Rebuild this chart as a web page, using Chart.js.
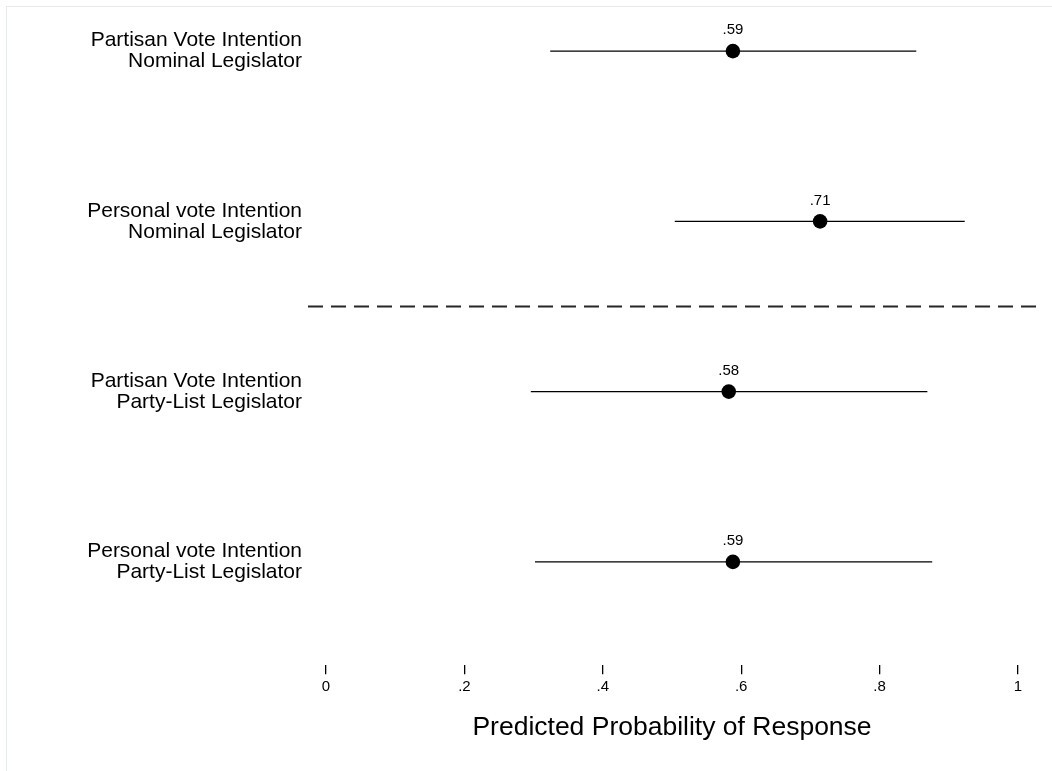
<!DOCTYPE html>
<html>
<head>
<meta charset="utf-8">
<script src="https://cdn.jsdelivr.net/npm/chart.js@4.4.0/dist/chart.umd.min.js"></script>
<style>
    body { margin: 0; background: #fff; overflow: hidden; }
    #wrap { position: relative; width: 1052px; height: 771px; }
    #frame { position: absolute; left: 6px; top: 6px; width: 1100px; height: 800px; border: 1px solid #e3ebed; }
    canvas { position: absolute; left: 0; top: 0; }
</style>
</head>
<body>
<div id="wrap">
    <div id="frame"></div>
    <canvas id="chart" width="1052" height="771"></canvas>
</div>
<script>
// row labels, top to bottom
const rowLabels = [
    ['Partisan Vote Intention', 'Nominal Legislator'],
    ['Personal vote Intention', 'Nominal Legislator'],
    ['Partisan Vote Intention', 'Party-List Legislator'],
    ['Personal vote Intention', 'Party-List Legislator']
];
const rowPos = [1, 2, 3, 4];
const estimates = [0.588, 0.714, 0.582, 0.588];
const ciLow = [0.324, 0.504, 0.296, 0.302];
const ciHigh = [0.853, 0.923, 0.869, 0.876];
const xTicks = [0, 0.2, 0.4, 0.6, 0.8, 1];
const xTickLabels = ['0', '.2', '.4', '.6', '.8', '1'];
const dividerRow = 2.5;
const xMin = -0.026, xMax = 1.026;

const font = '"Liberation Sans", Arial, Helvetica, sans-serif';

function fmt(v) {
    return v.toFixed(2).replace(/^0/, '');
}

// confidence interval lines
const ciSets = rowPos.map((r, i) => ({
    type: 'scatter',
    showLine: true,
    data: [{ x: ciLow[i], y: r }, { x: ciHigh[i], y: r }],
    borderColor: '#000',
    borderWidth: 1.4,
    pointRadius: 0
}));

const dividerSet = {
    type: 'scatter',
    showLine: true,
    data: [{ x: xMin, y: dividerRow }, { x: xMax, y: dividerRow }],
    borderColor: '#262626',
    borderWidth: 1.8,
    borderDash: [15, 8],
    pointRadius: 0
};

const pointSet = {
    type: 'scatter',
    data: rowPos.map((r, i) => ({ x: estimates[i], y: r })),
    backgroundColor: '#000',
    borderColor: '#000',
    pointRadius: 7.3,
    pointBorderWidth: 0
};

// value labels above the dots
const valueLabels = {
    id: 'valueLabels',
    afterDatasetsDraw(chart) {
        const idx = chart.data.datasets.indexOf(pointSet);
        const meta = chart.getDatasetMeta(idx);
        const ctx = chart.ctx;
        ctx.save();
        ctx.font = '15px ' + font;
        ctx.fillStyle = '#000';
        ctx.textAlign = 'center';
        ctx.textBaseline = 'middle';
        meta.data.forEach((pt, i) => {
            ctx.fillText(fmt(estimates[i]), pt.x, pt.y - 21);
        });
        ctx.restore();
    }
};

new Chart(document.getElementById('chart'), {
    type: 'scatter',
    data: { datasets: [...ciSets, dividerSet, pointSet] },
    options: {
        responsive: false,
        animation: false,
        layout: { padding: { left: 8, right: 16, top: 30, bottom: 7 } },
        plugins: {
            legend: { display: false },
            tooltip: { enabled: false }
        },
        scales: {
            x: {
                type: 'linear',
                min: xMin,
                max: xMax,
                afterBuildTicks: s => { s.ticks = xTicks.map(v => ({ value: v })); },
                border: { display: false },
                grid: { drawOnChartArea: false, drawTicks: true, tickLength: 9, color: '#000', lineWidth: 1.3 },
                ticks: {
                    color: '#000',
                    font: { family: font, size: 15 },
                    padding: 4,
                    maxRotation: 0,
                    autoSkip: false,
                    callback: v => xTickLabels[xTicks.indexOf(v)]
                },
                title: {
                    display: true,
                    text: 'Predicted Probability of Response',
                    color: '#000',
                    font: { family: font, size: 26.5 },
                    padding: { top: 12, bottom: 20 }
                }
            },
            y: {
                type: 'linear',
                reverse: true,
                min: 0.876,
                max: 4.607,
                afterBuildTicks: s => { s.ticks = rowPos.map(v => ({ value: v })); },
                afterFit: s => { s.width = 300; },
                border: { display: false },
                grid: { display: false, drawTicks: false },
                ticks: {
                    color: '#000',
                    font: { family: font, size: 21, lineHeight: '21px' },
                    padding: 6,
                    crossAlign: 'near',
                    autoSkip: false,
                    callback: v => rowLabels[rowPos.indexOf(v)]
                }
            }
        }
    },
    plugins: [valueLabels]
});
</script>
</body>
</html>
